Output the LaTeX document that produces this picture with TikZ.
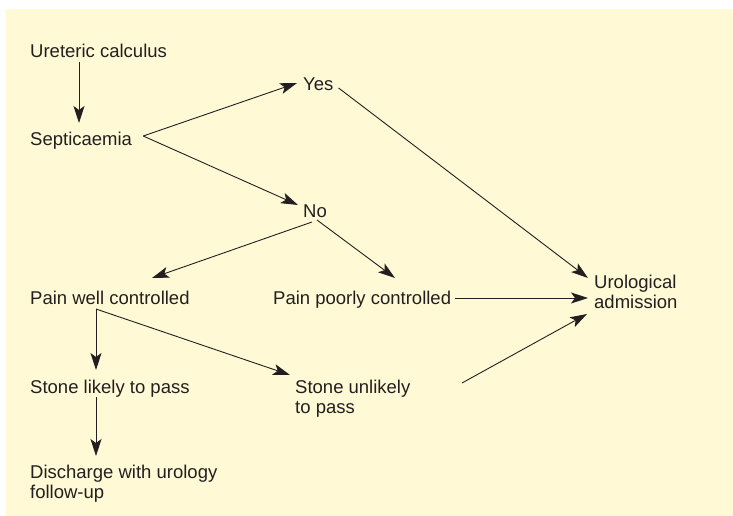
\documentclass[tikz,border=0pt]{standalone}
\usepackage{fontspec}
\setmainfont{Liberation Sans}
\usetikzlibrary{arrows.meta}
\definecolor{paper}{RGB}{255,249,214}
\definecolor{ink}{RGB}{35,31,32}
\begin{document}
\begin{tikzpicture}[
    x=1pt, y=-1pt,
    txt/.style={anchor=base west, inner sep=0pt, align=left, text=ink,
        font=\fontsize{18.5}{20}\selectfont},
    arr/.style={draw=ink, line width=0.9pt,
        -{Stealth[length=17pt, width=11pt, inset=4pt]}}
]
\useasboundingbox (0,0) rectangle (733,516);
\fill[paper] (6,9) rectangle (733,516);
% Knoten
\node[txt] (uc) at (30,58) {Ureteric calculus};
\node[txt] (sp) at (30,145) {Septicaemia};
\node[txt] (yes) at (303,91) {Yes};
\node[txt] (no) at (303,217) {No};
\node[txt] (pw) at (30,304) {Pain well controlled};
\node[txt] (pp) at (273,304) {Pain poorly controlled};
\node[txt] (ur) at (594,308) {Urological\\admission};
\node[txt] (sl) at (30,393) {Stone likely to pass};
\node[txt] (su) at (295,413) {Stone unlikely\\to pass};
\node[txt] (dc) at (30,498) {Discharge with urology\\follow-up};
% Pfeile
\draw[arr] ([xshift=49pt,yshift=-4pt]uc.base west) -- ([xshift=49pt,yshift=22pt]sp.base west);
\draw[arr] ([xshift=11pt,yshift=9pt]sp.base east) -- ([xshift=-6pt,yshift=8pt]yes.base west);
\draw[arr] ([xshift=11pt,yshift=9pt]sp.base east) -- ([xshift=-5pt,yshift=12pt]no.base west);
\draw[arr] ([xshift=5pt,yshift=3pt]yes.base east) -- ([xshift=-6pt,yshift=30pt]ur.base west);
\draw[arr] ([xshift=9pt,yshift=-5pt]no.base west) -- ([xshift=122pt,yshift=26pt]pw.base west);
\draw[arr] ([xshift=14pt,yshift=-3pt]no.base west) -- ([xshift=122pt,yshift=26pt]pp.base west);
\draw[arr] ([xshift=4pt,yshift=6pt]pp.base east) -- ([xshift=-6pt,yshift=10pt]ur.base west);
\draw[arr] ([xshift=167pt,yshift=30pt]su.base west) -- ([xshift=-7pt,yshift=-6pt]ur.base west);
\draw[arr] ([xshift=66pt,yshift=-5pt]pw.base west) -- ([xshift=66pt,yshift=23pt]sl.base west);
\draw[arr] ([xshift=66pt,yshift=-5pt]pw.base west) -- ([xshift=-5pt,yshift=38pt]su.base west);
\draw[arr] ([xshift=66pt,yshift=-4pt]sl.base west) -- ([xshift=66pt,yshift=42pt]dc.base west);
\end{tikzpicture}
\end{document}
